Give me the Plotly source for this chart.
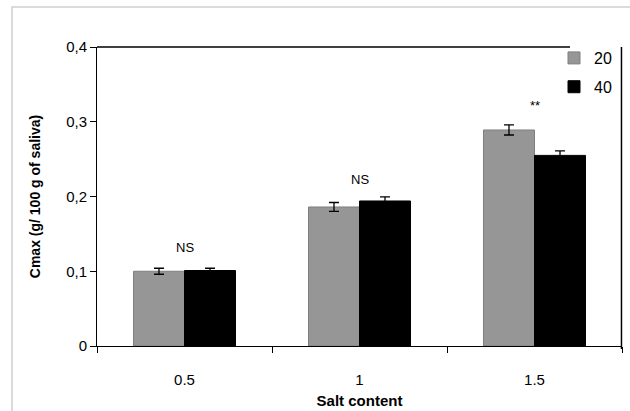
import plotly.graph_objects as go

categories = ["0.5", "1", "1.5"]
series_names = ["20", "40"]
values_20 = [0.100, 0.186, 0.289]
values_40 = [0.101, 0.194, 0.255]
err_20 = [0.004, 0.006, 0.0067]
err_40 = [0.003, 0.0055, 0.006]
sig_labels = ["NS", "NS", "**"]
sig_y = [0.132, 0.223, 0.322]

FONT = "Liberation Sans, Arial, sans-serif"

fig = go.Figure()
fig.add_trace(go.Bar(
    name=series_names[0], x=categories, y=values_20, legendgroup="a",
    marker=dict(color="#969696", line=dict(color="#7f7f7f", width=1)),
    error_y=dict(type="data", array=err_20, color="black", thickness=1.3, width=5),
))
fig.add_trace(go.Bar(
    name=series_names[1], x=categories, y=values_40, legendgroup="b",
    marker=dict(color="#000000", line=dict(color="#000000", width=1)),
    error_y=dict(type="data", array=err_40, color="black", thickness=1.3, width=5),
))

for i, (t, yv) in enumerate(zip(sig_labels, sig_y)):
    fig.add_annotation(x=i, y=yv, text=t, showarrow=False,
                       font=dict(family=FONT, size=13, color="black"))

# outer light-gray frame
fig.add_shape(type="rect", xref="paper", yref="paper",
              x0=(12 - 97) / 525, x1=(640 - 97) / 525,
              y0=(346 - 420) / 299, y1=(346 - 7) / 299,
              line=dict(color="#cfcfcf", width=1.5), fillcolor="rgba(0,0,0,0)", layer="below")
# top border of plot area, interrupted where the legend sits
fig.add_shape(type="line", xref="paper", yref="paper",
              x0=0, x1=(570 - 97) / 525, y0=1, y1=1,
              line=dict(color="black", width=1.3))
# right border of plot area
fig.add_shape(type="line", xref="paper", yref="paper",
              x0=0.999, x1=0.999, y0=-0.01, y1=1,
              line=dict(color="black", width=1.5))

fig.update_layout(
    width=630, height=411,
    margin=dict(l=97, r=8, t=47, b=65, autoexpand=False),
    paper_bgcolor="white", plot_bgcolor="white",
    barmode="group", bargap=0.417, bargroupgap=0,
    font=dict(family=FONT, color="black", size=15),
    legend=dict(x=(554 - 97) / 525, y=1.02, xanchor="left", yanchor="top",
                bgcolor="rgba(0,0,0,0)", font=dict(size=16, family=FONT),
                borderwidth=0, tracegroupgap=5, itemwidth=30),
    xaxis=dict(
        type="category", showline=True, linecolor="black", linewidth=1,
        ticks="outside", ticklen=6, tickcolor="black", tickson="boundaries",
        mirror=False, ticklabelstandoff=20, automargin=False,
        title=dict(text="<b>Salt content</b>", font=dict(size=15, family=FONT), standoff=8),
        tickfont=dict(size=15),
    ),
    yaxis=dict(
        range=[0, 0.4], automargin=False,
        showline=True, linecolor="black", linewidth=1, mirror=False,
        ticks="outside", ticklen=6, tickcolor="black", showgrid=False,
        zeroline=False,
        tickvals=[0, 0.1, 0.2, 0.3, 0.4], ticktext=["0", "0,1", "0,2", "0,3", "0,4"],
        title=dict(text="<b>Cmax (g/ 100 g of saliva)</b>", font=dict(size=14, family=FONT), standoff=22),
        tickfont=dict(size=15),
    ),
)

fig.write_html("out.html", config={"displayModeBar": False},
               post_script="document.body.style.margin='0';")
